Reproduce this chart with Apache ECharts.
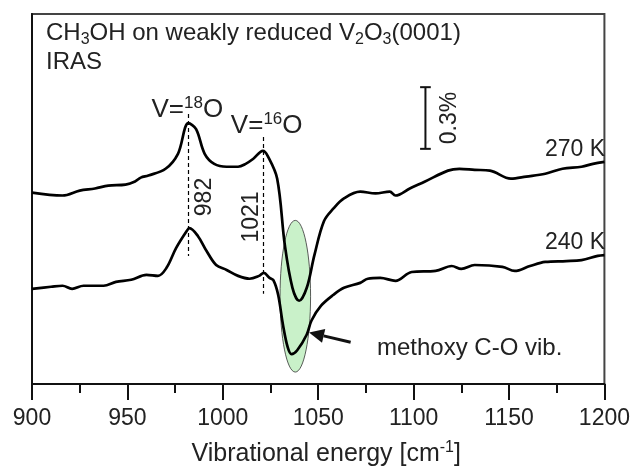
<!DOCTYPE html>
<html>
<head>
<meta charset="utf-8">
<script src="https://cdn.jsdelivr.net/npm/echarts@6/dist/echarts.min.js"></script>
<style>html,body{margin:0;padding:0;background:#fff}#c{width:633px;height:472px}</style>
</head>
<body>
<div id="c"></div>
<script>
// Wavenumbers (cm^-1) and reflectance change (%)
const wn270 = [900,916,925,933,940,949,954,957,961,970,976.5,982,986,990.5,995.5,1002,1008,1012,1016,1021,1023.5,1028.5,1032.5,1036.5,1040,1044,1048,1053,1058,1063.5,1072,1080,1087.5,1090.5,1098,1106,1118,1124,1132,1140,1151,1159,1169,1178,1188,1194,1200];
const r270  = [0.931,0.917,0.941,0.951,0.965,0.970,0.985,1.004,1.014,1.047,1.120,1.269,1.240,1.120,1.071,1.057,1.057,1.071,1.096,1.134,1.110,0.999,0.676,0.468,0.405,0.468,0.627,0.792,0.854,0.903,0.936,0.927,0.936,0.917,0.951,0.985,1.038,1.047,1.042,1.038,0.999,1.009,1.023,1.047,1.057,1.071,1.081];
const wn240 = [900,910,916,921,927,937.5,944,952,960,966,970.5,975.5,981,982.5,987,991.5,996.5,1002,1008,1014,1019,1021.5,1024.5,1026.5,1029,1031.5,1034,1036,1039,1044,1046.5,1051.5,1058,1063.5,1072,1076,1082.5,1090.5,1099,1111.5,1120,1125,1132,1146.5,1153,1161,1169,1180,1188,1196.5,1200];
const r240  = [0.463,0.473,0.478,0.463,0.478,0.478,0.497,0.507,0.531,0.526,0.565,0.661,0.743,0.758,0.719,0.647,0.579,0.555,0.526,0.512,0.526,0.541,0.516,0.505,0.434,0.290,0.179,0.145,0.164,0.241,0.309,0.381,0.434,0.468,0.492,0.512,0.516,0.502,0.545,0.550,0.574,0.560,0.579,0.570,0.550,0.574,0.594,0.598,0.603,0.623,0.627];
const xTicks = [900,950,1000,1050,1100,1150,1200];
const peakPositions = [982, 1021];
const seriesNames = ['270 K','240 K'];

const FONT = "'Liberation Sans', Arial, Helvetica, sans-serif";
const zip = (a,b) => a.map((v,i)=>[v,b[i]]);

const chart = echarts.init(document.getElementById('c'), null, {renderer:'canvas'});

// annotation geometry in data coordinates
const ellipse = {cx:1038, cy:0.427, rx:8.0, ry:0.369};
const arrow = {from:[1067,0.203], to:[1045.2,0.251]};
const scaleBar = {x:1106.2, y0:1.144, y1:1.444, cap:2.8};
const dashes = [[982,1.313,0.623],[1021,1.202,0.439]];

const option = {
  animation:false,
  grid:{left:32,right:17,top:14,bottom:85,show:true,borderColor:'#444',borderWidth:2,backgroundColor:'transparent'},
  xAxis:{
    type:'value',min:900,max:1200,interval:50,
    axisLine:{lineStyle:{color:'#111',width:2}},
    axisTick:{inside:false,length:16,lineStyle:{color:'#111',width:2}},
    minorTick:{show:true,splitNumber:2,length:9,lineStyle:{color:'#111',width:2}},
    splitLine:{show:false},minorSplitLine:{show:false},
    axisLabel:{fontSize:23,color:'#222',fontFamily:FONT,margin:23,
      formatter:v=>xTicks.includes(v)?String(v):''},
    name:'Vibrational energy [cm{sup|-1}]',nameLocation:'middle',nameGap:56,
    nameTextStyle:{fontSize:25,color:'#222',fontFamily:FONT,padding:[0,0,0,16],
      rich:{sup:{fontSize:16,color:'#222',fontFamily:FONT,padding:[0,0,13,0]}}}
  },
  yAxis:{
    type:'value',min:0,max:1.8,
    axisLine:{show:true,lineStyle:{color:'#111',width:2}},
    axisTick:{show:false},axisLabel:{show:false},splitLine:{show:false}
  },
  series:[
    {
      type:'custom',z:1,silent:true,
      data:[[ellipse.cx,ellipse.cy]],
      renderItem:(params,api)=>{
        const c = api.coord([ellipse.cx,ellipse.cy]);
        const e = api.coord([ellipse.cx+ellipse.rx,ellipse.cy+ellipse.ry]);
        const rx = e[0]-c[0], ry = c[1]-e[1];
        return {type:'ellipse',shape:{cx:c[0],cy:c[1],rx:rx,ry:ry},
          style:{fill:'#c9f1c9',stroke:'#333',lineWidth:0.8}};
      }
    },
    {
      name:seriesNames[0],type:'line',z:3,data:zip(wn270,r270),showSymbol:false,smooth:0.35,
      lineStyle:{color:'#000',width:2.7},
      markLine:{silent:true,symbol:'none',label:{show:false},
        lineStyle:{color:'#000',type:[4,3],width:1.2},
        data:dashes.map(d=>[{coord:[d[0],d[1]]},{coord:[d[0],d[2]]}])}
    },
    {
      name:seriesNames[1],type:'line',z:3,data:zip(wn240,r240),showSymbol:false,smooth:0.35,
      lineStyle:{color:'#000',width:2.7}
    },
    {
      type:'custom',z:4,silent:true,
      data:[[arrow.to[0],arrow.to[1]]],
      renderItem:(params,api)=>{
        const a = api.coord(arrow.from), b = api.coord(arrow.to);
        const dx=b[0]-a[0], dy=b[1]-a[1], L=Math.hypot(dx,dy);
        const ux=dx/L, uy=dy/L, hl=15, hw=7;
        const bx=b[0]-ux*hl, by=b[1]-uy*hl;
        const s0 = api.coord([scaleBar.x,scaleBar.y0]), s1 = api.coord([scaleBar.x,scaleBar.y1]);
        const cw = api.coord([scaleBar.x+scaleBar.cap,scaleBar.y0])[0]-s0[0];
        return {type:'group',children:[
          {type:'line',shape:{x1:a[0],y1:a[1],x2:bx,y2:by},style:{stroke:'#111',lineWidth:3}},
          {type:'polygon',shape:{points:[[b[0],b[1]],[bx-uy*hw,by+ux*hw],[bx+uy*hw,by-ux*hw]]},style:{fill:'#111'}},
          {type:'line',shape:{x1:s0[0],y1:s0[1],x2:s1[0],y2:s1[1]},style:{stroke:'#111',lineWidth:2}},
          {type:'line',shape:{x1:s0[0]-cw,y1:s0[1],x2:s0[0]+cw,y2:s0[1]},style:{stroke:'#111',lineWidth:2}},
          {type:'line',shape:{x1:s1[0]-cw,y1:s1[1],x2:s1[0]+cw,y2:s1[1]},style:{stroke:'#111',lineWidth:2}}
        ]};
      }
    }
  ],
  graphic:[]
};
chart.setOption(option);

const mk = (size)=>({fill:'#222',fontFamily:FONT,fontSize:size});
const subR = {fontSize:16,fill:'#222',fontFamily:FONT,padding:[13,0,0,0]};
const supR = {fontSize:17,fill:'#222',fontFamily:FONT,padding:[0,0,13,0]};
const txt = (x,y,text,size,opts) => {
  opts = opts||{};
  const el = {type:'text',x:x,y:y,silent:true,
    style:Object.assign({text:text,verticalAlign:'middle',align:opts.align||'left',rich:{sub:subR,sup:supR}},mk(size))};
  if (opts.rot) el.rotation = opts.rot;
  return el;
};
const px = (p)=>chart.convertToPixel({gridIndex:0},p);
const p982 = px([peakPositions[0],0])[0], p1021 = px([peakPositions[1],0])[0];
chart.setOption({graphic:[
  txt(46,33,'CH{sub|3}OH on weakly reduced V{sub|2}O{sub|3}(0001)',24),
  txt(46,62,'IRAS',24),
  txt(p982-37,110,'V={sup|18}O',26),
  txt(p1021-32,126,'V={sup|16}O',26),
  txt(p982+16,197,'982',23,{align:'center',rot:Math.PI/2}),
  txt(p1021-11,217,'1021',23,{align:'center',rot:Math.PI/2}),
  txt(450,118,'0.3%',23,{align:'center',rot:Math.PI/2}),
  txt(605,150,seriesNames[0],23,{align:'right'}),
  txt(605,243,seriesNames[1],23,{align:'right'}),
  txt(377,348,'methoxy C-O vib.',24)
]});
</script>
</body>
</html>
